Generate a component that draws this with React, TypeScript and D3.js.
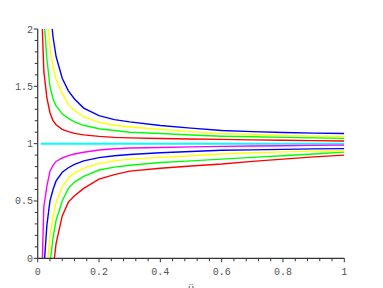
import { useEffect, useRef } from 'react';
import * as d3 from 'd3';

// sample abscissae shared by all curves
const xs = [0.01, 0.02, 0.03, 0.04, 0.05, 0.06, 0.08, 0.1, 0.12, 0.15, 0.2, 0.25, 0.3, 0.4, 0.5, 0.6, 0.7, 0.8, 0.9, 1];

// upper family (above 1)
const redUp = [2.4, 1.63, 1.4, 1.27, 1.2, 1.165, 1.125, 1.105, 1.09, 1.077, 1.063, 1.055, 1.05, 1.045, 1.04, 1.037, 1.033, 1.03, 1.026, 1.023];
const greenUp = [2.8, 2.1, 1.74, 1.5, 1.39, 1.33, 1.26, 1.22, 1.19, 1.16, 1.13, 1.115, 1.1, 1.088, 1.075, 1.065, 1.06, 1.055, 1.05, 1.046];
const yellowUp = [3.5, 2.6, 2.15, 1.84, 1.67, 1.56, 1.44, 1.34, 1.29, 1.235, 1.186, 1.16, 1.145, 1.125, 1.105, 1.09, 1.08, 1.072, 1.066, 1.062];
const blueUp = [4.5, 3.3, 2.6, 2.2, 1.93, 1.76, 1.57, 1.46, 1.39, 1.31, 1.245, 1.21, 1.19, 1.158, 1.135, 1.115, 1.105, 1.097, 1.092, 1.088];
const cyanMid = [1, 1, 1, 1, 1, 1, 1, 1, 1, 1, 1, 1, 1, 1, 1, 1, 1, 1, 1, 1];

// lower family (below 1)
const magentaLo = [-0.5, 0.45, 0.63, 0.76, 0.81, 0.845, 0.875, 0.895, 0.91, 0.925, 0.945, 0.955, 0.962, 0.967, 0.972, 0.976, 0.979, 0.982, 0.985, 0.987];
const blueLo = [-1.0, -0.1, 0.29, 0.5, 0.6, 0.675, 0.75, 0.79, 0.82, 0.85, 0.878, 0.895, 0.905, 0.92, 0.932, 0.942, 0.946, 0.95, 0.954, 0.957];
const yellowLo = [-1.5, -0.7, -0.1, 0.2, 0.36, 0.49, 0.62, 0.7, 0.745, 0.785, 0.828, 0.85, 0.865, 0.88, 0.895, 0.91, 0.92, 0.928, 0.935, 0.94];
const greenLo = [-2, -1.2, -0.6, -0.05, 0.18, 0.33, 0.5, 0.61, 0.665, 0.715, 0.77, 0.795, 0.812, 0.835, 0.85, 0.865, 0.88, 0.895, 0.91, 0.926];
const redLo = [-3, -2, -1.2, -0.6, -0.1, 0.13, 0.37, 0.49, 0.545, 0.61, 0.69, 0.73, 0.76, 0.785, 0.805, 0.822, 0.845, 0.865, 0.885, 0.9];

const series = [
  { values: redUp, color: '#ff0000' },
  { values: greenUp, color: '#00ff00' },
  { values: yellowUp, color: '#ffff00' },
  { values: blueUp, color: '#0000ff' },
  { values: redLo, color: '#ff0000' },
  { values: greenLo, color: '#00ff00' },
  { values: yellowLo, color: '#ffff00' },
  { values: blueLo, color: '#0000ff' },
  { values: magentaLo, color: '#ff00ff' },
];

const xTickLabels = ['0', '0.2', '0.4', '0.6', '0.8', '1'];
const yTickLabels = ['0', '0.5', '1', '1.5', '2'];

export default function App() {
  const svgRef = useRef<SVGSVGElement>(null);

  useEffect(() => {
    if (!svgRef.current) return;

    const x = d3.scaleLinear().domain([0, 1]).range([37.7, 344.3]);
    const y = d3.scaleLinear().domain([0, 2]).range([258.3, 29]);

    const svg = d3.select(svgRef.current);
    svg.selectAll('*').remove();

    svg.append('defs').append('clipPath').attr('id', 'plotclip')
      .append('rect')
      .attr('x', x(0)).attr('y', y(2))
      .attr('width', x(1) - x(0)).attr('height', y(0) - y(2));

    const line = d3.line<number>()
      .x((_, i) => x(xs[i]))
      .y(d => y(d));

    const plot = svg.append('g').attr('clip-path', 'url(#plotclip)');

    plot.append('path')
      .attr('d', line(cyanMid) || '')
      .attr('fill', 'none')
      .attr('stroke', '#00ffff')
      .attr('stroke-width', 2);

    series.forEach(s => {
      plot.append('path')
        .attr('d', line(s.values) || '')
        .attr('fill', 'none')
        .attr('stroke', s.color)
        .attr('stroke-width', 1.4);
    });

    const axisColor = '#333';
    const font = 'Liberation Mono, DejaVu Sans Mono, monospace';

    // x axis
    svg.append('line')
      .attr('x1', x(0)).attr('x2', x(1))
      .attr('y1', y(0)).attr('y2', y(0))
      .attr('stroke', axisColor).attr('stroke-width', 1.2);
    d3.range(0, 26).forEach(i => {
      const v = i * 0.04;
      const major = i % 5 === 0;
      svg.append('line')
        .attr('x1', x(v)).attr('x2', x(v))
        .attr('y1', y(0)).attr('y2', y(0) + (major ? 4 : 3))
        .attr('stroke', axisColor).attr('stroke-width', 1);
    });
    xTickLabels.forEach((t, i) => {
      svg.append('text')
        .attr('x', x(i * 0.2))
        .attr('y', 274.5)
        .attr('text-anchor', 'middle')
        .attr('font-family', font)
        .attr('font-size', '10px')
        .attr('fill', '#555')
        .text(t);
    });

    // y axis
    svg.append('line')
      .attr('x1', x(0)).attr('x2', x(0))
      .attr('y1', y(0)).attr('y2', y(2))
      .attr('stroke', axisColor).attr('stroke-width', 1.2);
    d3.range(0, 21).forEach(i => {
      const v = i * 0.1;
      const major = i % 5 === 0;
      svg.append('line')
        .attr('x1', x(0) - (major ? 4 : 3)).attr('x2', x(0))
        .attr('y1', y(v)).attr('y2', y(v))
        .attr('stroke', axisColor).attr('stroke-width', 1);
    });
    yTickLabels.forEach((t, i) => {
      svg.append('text')
        .attr('x', 33)
        .attr('y', y(i * 0.5))
        .attr('dy', '0.35em')
        .attr('text-anchor', 'end')
        .attr('font-family', font)
        .attr('font-size', '10px')
        .attr('fill', '#555')
        .text(t);
    });

    // x label, cut off by the bottom edge as in the original
    svg.append('text')
      .attr('x', x(0.5))
      .attr('y', 292)
      .attr('text-anchor', 'middle')
      .attr('font-family', font)
      .attr('font-size', '11px')
      .attr('fill', '#555')
      .text('ü');
  }, []);

  return (
    <svg ref={svgRef} width={383} height={288}
      style={{ position: 'absolute', left: 0, top: 0, background: '#fff' }} />
  );
}
